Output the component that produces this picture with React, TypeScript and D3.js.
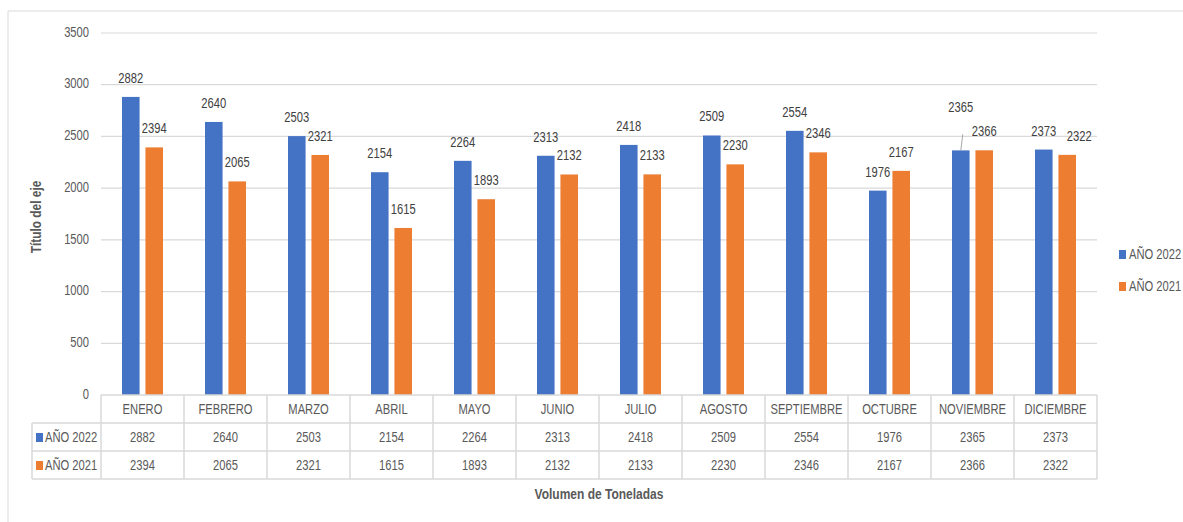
import React from 'react';
import * as d3 from 'd3';

const months = ['ENERO', 'FEBRERO', 'MARZO', 'ABRIL', 'MAYO', 'JUNIO', 'JULIO', 'AGOSTO', 'SEPTIEMBRE', 'OCTUBRE', 'NOVIEMBRE', 'DICIEMBRE'];
const seriesNames = ['AÑO 2022', 'AÑO 2021'];
const values2022 = [2882, 2640, 2503, 2154, 2264, 2313, 2418, 2509, 2554, 1976, 2365, 2373];
const values2021 = [2394, 2065, 2321, 1615, 1893, 2132, 2133, 2230, 2346, 2167, 2366, 2322];
const yTicks = [0, 500, 1000, 1500, 2000, 2500, 3000, 3500];
const colors = ['#4472C4', '#ED7D31'];

const W = 1183;
const H = 522;
const FONT = "'Liberation Sans', Arial, sans-serif";
const GRID = '#d9d9d9';

// texto estrecho: se escala en horizontal alrededor de su punto de anclaje (parecido a Calibri)
const T = ({ x, y, children, anchor = 'start', size = 14, sx = 0.8, fill = '#595959', weight = 'normal', rotate = 0, mid = true }: any) => (
  <text
    transform={`translate(${x},${y}) rotate(${rotate}) scale(${sx},1)`}
    textAnchor={anchor}
    dominantBaseline={mid ? 'middle' : 'auto'}
    fontSize={size}
    fontWeight={weight}
    fill={fill}
  >
    {children}
  </text>
);

const App = () => {
  const series = [values2022, values2021];
  const left = 101;
  const right = 1097;
  const top = 33;
  const bottom = 395;

  const x0 = d3.scaleBand<string>().domain(months).range([left, right]).padding(0);
  const col = x0.bandwidth();
  const x1 = d3.scaleBand<string>().domain(seriesNames).range([21, col - 21]).paddingInner(0.25);
  const y = d3.scaleLinear().domain([0, 3500]).range([bottom, top]);

  // filas de la tabla de datos
  const rowTops = [bottom, 423, 451, 479];
  const legendLeft = 32;

  return (
    <svg width={W} height={H} style={{ position: 'absolute', left: 0, top: 0, background: '#fff' }} fontFamily={FONT}>
      {/* borde del gráfico */}
      <line x1={8} y1={11} x2={W} y2={11} stroke={GRID} />
      <line x1={8} y1={11} x2={8} y2={H} stroke={GRID} />

      {/* rejilla */}
      {yTicks.map(t => (
        <g key={t}>
          {t > 0 && <line x1={left} x2={right} y1={y(t)} y2={y(t)} stroke={GRID} strokeWidth={1.2} />}
          <T x={89} y={y(t)} anchor="end">{t}</T>
        </g>
      ))}

      {/* barras */}
      {months.map((m, i) => (
        <g key={m} transform={`translate(${x0(m)},0)`}>
          {seriesNames.map((s, j) => {
            const v = series[j][i];
            return (
              <rect key={s} x={x1(s)} y={y(v)} width={x1.bandwidth()} height={bottom - y(v)} fill={colors[j]} />
            );
          })}
        </g>
      ))}

      {/* etiquetas de datos */}
      {months.map((m, i) => (
        <g key={m + '-lbl'} transform={`translate(${x0(m)},0)`}>
          {seriesNames.map((s, j) => {
            const v = series[j][i];
            const cx = (x1(s) as number) + x1.bandwidth() / 2;
            let dx = 0;
            let dy = 0;
            if (m === 'NOVIEMBRE' && j === 0) dy = -24;
            if (m === 'DICIEMBRE' && j === 1) dx = 12;
            return (
              <g key={s}>
                {dy !== 0 && (
                  <line x1={cx + 2} y1={y(v) + dy + 8} x2={cx} y2={y(v)} stroke="#a6a6a6" strokeWidth={1} />
                )}
                <T x={cx + dx} y={y(v) - 14 + dy} anchor="middle" fill="#404040" mid={false}>{v}</T>
              </g>
            );
          })}
        </g>
      ))}

      {/* tabla de datos */}
      <line x1={left} x2={right} y1={rowTops[0]} y2={rowTops[0]} stroke={GRID} strokeWidth={1.5} />
      {rowTops.slice(1).map(r => (
        <line key={r} x1={legendLeft} x2={right} y1={r} y2={r} stroke={GRID} strokeWidth={1.5} />
      ))}
      <line x1={legendLeft} x2={legendLeft} y1={rowTops[1]} y2={rowTops[3]} stroke={GRID} strokeWidth={1.5} />
      {[...months.map(m => x0(m) as number), right].map((xv, k) => (
        <line key={k} x1={xv} x2={xv} y1={rowTops[0]} y2={rowTops[3]} stroke={GRID} strokeWidth={1.5} />
      ))}
      {months.map(m => (
        <T key={m + '-h'} x={(x0(m) as number) + col / 2} y={(rowTops[0] + rowTops[1]) / 2 + 1} anchor="middle">{m}</T>
      ))}
      {seriesNames.map((s, j) => {
        const cy = (rowTops[j + 1] + rowTops[j + 2]) / 2 + 1;
        return (
          <g key={s + '-row'}>
            <rect x={36} y={cy - 5} width={7} height={9} fill={colors[j]} />
            <T x={45} y={cy}>{s}</T>
            {months.map((m, i) => (
              <T key={m} x={(x0(m) as number) + col / 2} y={cy} anchor="middle">{series[j][i]}</T>
            ))}
          </g>
        );
      })}

      {/* leyenda */}
      {seriesNames.map((s, j) => (
        <g key={s + '-leg'} transform={`translate(1119,${255 + j * 32})`}>
          <rect x={0} y={-5} width={7} height={9} fill={colors[j]} />
          <T x={10} y={0}>{s}</T>
        </g>
      ))}

      {/* títulos de ejes */}
      <T x={41} y={217} rotate={-90} anchor="middle" size={14} sx={0.85} weight="bold" mid={false}>Título del eje</T>
      <T x={(left + right) / 2} y={499} anchor="middle" size={15} sx={0.8} weight="bold" mid={false}>Volumen de Toneladas</T>
    </svg>
  );
};

export default App;
